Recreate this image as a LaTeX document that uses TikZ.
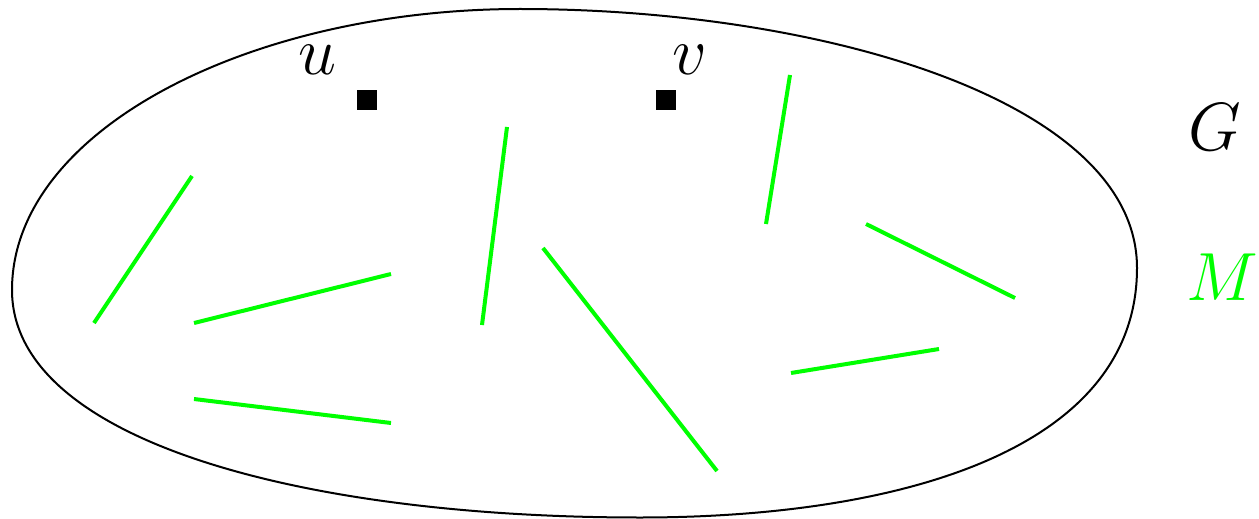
\documentclass[tikz,border=0pt]{standalone}
\begin{document}
\begin{tikzpicture}[x=0.5pt,y=-0.5pt,
  outline/.style={draw=black,line width=1pt},
  medge/.style={draw={rgb,255:red,0;green,255;blue,0},line width=2pt},
  vert/.style={fill=black,inner sep=0pt,minimum size=10pt,draw=none,rectangle},
  lab/.style={inner sep=0pt,scale=1.37,font=\fontsize{24.88}{30}\selectfont}]
\useasboundingbox (0,0) rectangle (1259,519);
\coordinate (L) at (12,290);
\coordinate (T) at (520,9);
\coordinate (R) at (1137,268);
\coordinate (B) at (640,517.5);
\draw[outline] (L) .. controls (12,130) and (250,9) .. (T)
  .. controls (820,9) and (1137,100) .. (R)
  .. controls (1137,450) and (900,517.5) .. (B)
  .. controls (300,517.5) and (12,440) .. (L) -- cycle;
\node[vert] (u) at (367,100) {};
\node[vert] (v) at (666,100) {};
\node[lab] (ul) at (317,60) {$u$};
\node[lab] (vl) at (690,60) {$v$};
\node[lab] (G) at (1215,127) {$G$};
\node[lab,text={rgb,255:red,0;green,255;blue,0}] (M) at (1222,277) {$M$};
\coordinate (a1) at (94,323); \coordinate (b1) at (192,176);
\coordinate (a2) at (194,323); \coordinate (b2) at (391,274);
\coordinate (a3) at (194,399); \coordinate (b3) at (391,423);
\coordinate (a4) at (482,325); \coordinate (b4) at (507,127);
\coordinate (a5) at (543,248); \coordinate (b5) at (717,471);
\coordinate (a6) at (766,224); \coordinate (b6) at (790,75);
\coordinate (a7) at (866,224); \coordinate (b7) at (1015,298);
\coordinate (a8) at (791,373); \coordinate (b8) at (939,349);
\foreach \i in {1,...,8} {\draw[medge] (a\i) -- (b\i);}
\end{tikzpicture}
\end{document}
